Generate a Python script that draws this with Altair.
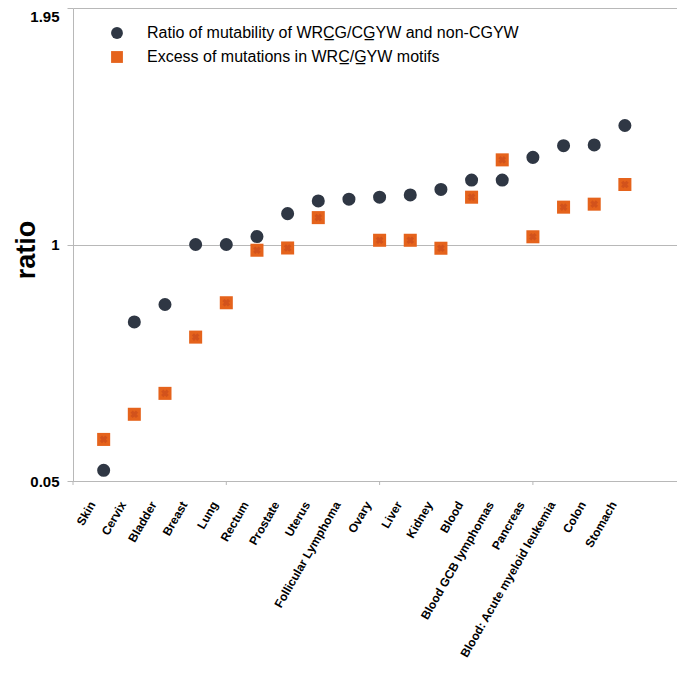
import altair as alt
import pandas as pd

cancers = ["Skin", "Cervix", "Bladder", "Breast", "Lung", "Rectum", "Prostate",
           "Uterus", "Follicular Lymphoma", "Ovary", "Liver", "Kidney", "Blood",
           "Blood GCB lymphomas", "Pancreas", "Blood: Acute myeloid leukemia",
           "Colon", "Stomach"]
ratio_mutability = [0.093, 0.689, 0.759, 1.000, 1.000, 1.032, 1.124, 1.175, 1.182,
                    1.190, 1.199, 1.221, 1.259, 1.259, 1.350, 1.397, 1.400, 1.478]
excess_mutations = [0.217, 0.318, 0.402, 0.628, 0.766, 0.977, 0.986, 1.108, None,
                    1.017, 1.017, 0.985, 1.190, 1.340, 1.031, 1.150, 1.162, 1.241]
y_ticks = [0.05, 1, 1.95]
x_ticks = [0, 5, 10, 15]

S1 = "Ratio of mutability of WRC\u0332G/CG\u0332YW and non-CGYW"
S2 = "Excess of mutations in WRC\u0332/G\u0332YW motifs"
DARK = "#2f3744"
ORANGE = "#e5631c"
AXIS_GREY = "#b8b8b8"

rows = []
for i, name in enumerate(cancers):
    rows.append({"pos": i + 1, "cancer": name, "series": S1, "value": ratio_mutability[i]})
    if excess_mutations[i] is not None:
        rows.append({"pos": i + 1, "cancer": name, "series": S2, "value": excess_mutations[i]})
df = pd.DataFrame(rows)
lab_df = pd.DataFrame({"pos": list(range(1, len(cancers) + 1)), "cancer": cancers})

W, H = 604, 473

x_enc = alt.X("pos:Q",
              scale=alt.Scale(domain=[0, 19.7], nice=False, zero=False),
              axis=alt.Axis(values=x_ticks, labels=False, ticks=False, grid=False,
                            domainColor=AXIS_GREY, title=None))
y_enc = alt.Y("value:Q",
              scale=alt.Scale(domain=[0.05, 1.95], nice=False, zero=False),
              axis=alt.Axis(values=y_ticks,
                            labelExpr="datum.value == 1 ? '1' : format(datum.value, '.2f')",
                            labelOffset={"condition": {"test": "datum.value > 1.9", "value": 8}, "value": 0},
                            grid=True, gridColor=AXIS_GREY, domainColor=AXIS_GREY,
                            tickColor=AXIS_GREY, tickSize=6,
                            labelFontWeight="bold", labelFontSize=15,
                            labelColor="black", labelPadding=8,
                            title="ratio", titleFontSize=27, titleFontWeight="bold",
                            titleColor="black", titleX=-47, titleY=H / 2 + 5,
                            titleAngle=270, titleAlign="center", titleBaseline="middle"))

legend = alt.Legend(title=None, orient="none", legendX=36, legendY=17,
                    labelFontSize=16, labelColor="black", labelLimit=0,
                    symbolSize=140, rowPadding=8, labelOffset=22, padding=0)

points = alt.Chart(df).mark_point(filled=True, opacity=1, size=170).encode(
    x=x_enc,
    y=y_enc,
    color=alt.Color("series:N",
                    scale=alt.Scale(domain=[S1, S2], range=[DARK, ORANGE]),
                    legend=legend),
    shape=alt.Shape("series:N",
                    scale=alt.Scale(domain=[S1, S2], range=["circle", "square"]),
                    legend=legend),
)

crosses = alt.Chart(df[df["series"] == S2]).mark_point(
    shape="cross", angle=45, filled=True, size=60, color="#c4481c", opacity=0.6
).encode(x=alt.X("pos:Q"), y=alt.Y("value:Q"))

tick_df = pd.DataFrame({"t": x_ticks})
xticks = alt.Chart(tick_df).mark_rule(color=AXIS_GREY, strokeWidth=1).encode(
    x=alt.X("t:Q"), y=alt.value(H), y2=alt.value(H + 4))

labels = alt.Chart(lab_df).mark_text(
    angle=300, align="right", baseline="middle", fontSize=12, fontWeight="bold",
    color="black", dx=0, dy=-13
).encode(x=alt.X("pos:Q"), y=alt.value(H + 28), text="cancer:N")

chart = alt.layer(xticks, points, crosses, labels).properties(
    width=W, height=H,
    autosize=alt.AutoSizeParams(type="none"),
    padding={"left": 65, "top": 0, "right": 0, "bottom": 185},
).configure(font="Liberation Sans").configure_view(stroke=None)

chart.save("out.html", embed_options={"renderer": "svg", "actions": False})
